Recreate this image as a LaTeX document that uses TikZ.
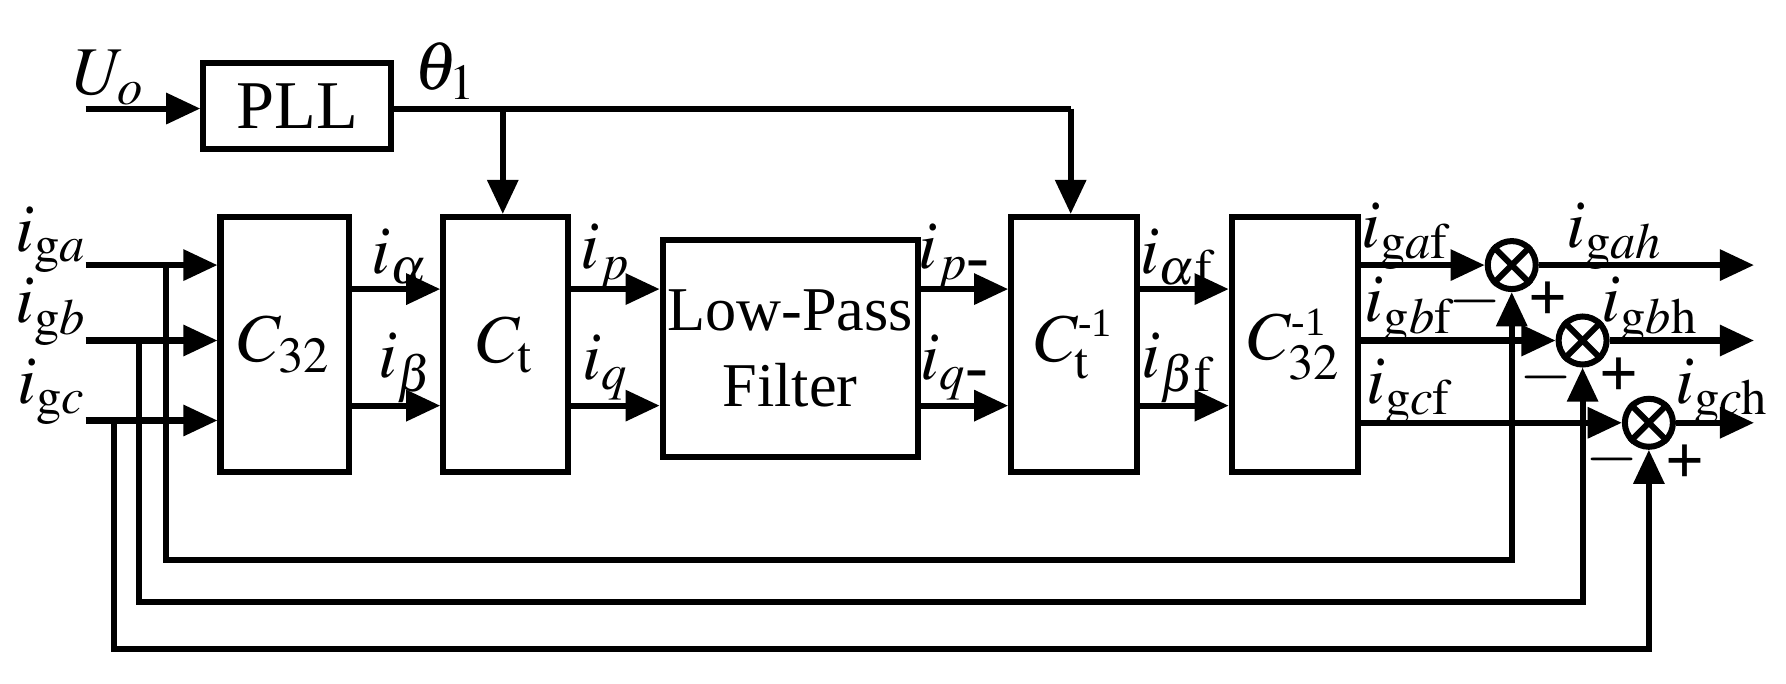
\documentclass[tikz,border=0pt]{standalone}
\usepackage{mathptmx}
\usepackage{fontspec}
\setmainfont{Liberation Serif}
\usetikzlibrary{arrows.meta,calc}
\begin{document}
\begin{tikzpicture}[x=0.01cm,y=-0.01cm,line width=1.5pt,
  arr/.style={-{Triangle[length=8.5pt,width=7.5pt]}},
  blk/.style={draw,inner sep=0pt,font=\fontsize{17}{19}\selectfont,align=center},
  sum/.style={draw,circle,minimum size=0.42cm,inner sep=0pt},
  lab/.style={font=\fontsize{17}{19}\selectfont,inner sep=0pt},
  sg/.style={font=\bfseries\fontsize{17}{19}\selectfont,inner sep=0pt}]
\useasboundingbox (0,0) rectangle (1563,598);
% blocks
\node[blk,minimum width=1.64cm,minimum height=0.75cm] (pll) at (260,92.5) {PLL};
\node[blk,minimum width=1.12cm,minimum height=2.23cm] (c32) at (249,301.5) {$C_{32}$};
\node[blk,minimum width=1.09cm,minimum height=2.23cm] (ct) at (442.5,301.5) {$C_{\mathrm{t}}$};
\node[blk,minimum width=2.23cm,minimum height=1.9cm,font=\fontsize{15.5}{19}\selectfont] (lpf) at (691.5,305) {Low-Pass\\Filter};
\node[blk,minimum width=1.10cm,minimum height=2.23cm] (cti) at (940,301.5) {$C_{\mathrm{t}}^{\mbox{\fontsize{10}{10}\selectfont -1}}$};
\node[blk,minimum width=1.10cm,minimum height=2.23cm] (c32i) at (1133,301.5) {$C_{32}^{\mbox{\fontsize{10}{10}\selectfont -1}}$};
% summers
\node[sum] (sa) at (1323,232) {};
\node[sum] (sb) at (1385,298) {};
\node[sum] (sc) at (1443,370) {};
\foreach \s in {sa,sb,sc}{
  \draw (\s.north west)--(\s.south east) (\s.north east)--(\s.south west);}
% coordinates
\coordinate (uo) at (75,95);
\coordinate (ia) at (75,232);
\coordinate (ib) at (75,298);
\coordinate (ic) at (75,368);
\coordinate (ta) at (145,232);
\coordinate (tb) at (122,298);
\coordinate (tc) at (100,368);
\coordinate (oa) at (1535,232);
\coordinate (ob) at (1535,298);
\coordinate (oc) at (1535,370);
\coordinate (br1) at (440,95);
\coordinate (br2) at (937,95);
% PLL
\draw[arr] (uo) -- (pll.west |- uo);
\draw (pll.east |- uo) -- (br2);
\draw[arr] (br1) -- (ct.north -| br1);
\draw[arr] (br2) -- (cti.north -| br2);
% inputs
\draw[arr] (ia) -- (c32.west |- ia);
\draw[arr] (ib) -- (c32.west |- ib);
\draw[arr] (ic) -- (c32.west |- ic);
% chain
\foreach \y in {253,355}{
  \draw[arr] (c32.east |- 0,\y) -- (ct.west |- 0,\y);
  \draw[arr] (ct.east |- 0,\y) -- (lpf.west |- 0,\y);
  \draw[arr] (lpf.east |- 0,\y) -- (cti.west |- 0,\y);
  \draw[arr] (cti.east |- 0,\y) -- (c32i.west |- 0,\y);}
% outputs
\draw[arr] (c32i.east |- sa) -- (sa.west);
\draw[arr] (c32i.east |- sb) -- (sb.west);
\draw[arr] (c32i.east |- sc) -- (sc.west);
\draw[arr] (sa.east) -- (oa);
\draw[arr] (sb.east) -- (ob);
\draw[arr] (sc.east) -- (oc);
% feedback
\draw[arr] (ta) -- (145,490) -| (sa.south);
\draw[arr] (tb) -- (122,527) -| (sb.south);
\draw[arr] (tc) -- (100,568) -| (sc.south);
% labels
\node[lab] (luo) at (95,68) {$U_{o}$};
\node[lab] (lth) at (390,62) {$\theta_{1}$};
\node[lab] (lga) at (45,210) {$i_{\mathrm{g}a}$};
\node[lab] (lgb) at (45,273) {$i_{\mathrm{g}b}$};
\node[lab] (lgc) at (45,343) {$i_{\mathrm{g}c}$};
\node[lab] (lal) at (350,225) {$i_{\alpha}$};
\node[lab] (lbe) at (355,322) {$i_{\beta}$};
\node[lab] (lp) at (530,225) {$i_{p}$};
\node[lab] (lq) at (530,322) {$i_{q}$};
\node[lab] (lpm) at (836,225) {$i_{p\mbox{-}}$};
\node[lab] (lqm) at (836,322) {$i_{q\mbox{-}}$};
\node[lab] (laf) at (1030,225) {$i_{\alpha\mathrm{f}}$};
\node[lab] (lbf) at (1030,322) {$i_{\beta\mathrm{f}}$};
\node[lab] (lgaf) at (1230,207) {$i_{\mathrm{g}a\mathrm{f}}$};
\node[lab] (lgbf) at (1233,272) {$i_{\mathrm{g}b\mathrm{f}}$};
\node[lab] (lgcf) at (1233,343) {$i_{\mathrm{g}c\mathrm{f}}$};
\node[lab] (lgah) at (1413,207) {$i_{\mathrm{g}ah}$};
\node[lab] (lgbh) at (1444,272) {$i_{\mathrm{g}b\mathrm{h}}$};
\node[lab] (lgch) at (1507,343) {$i_{\mathrm{g}c\mathrm{h}}$};
% signs
\node[sg] (ma) at (1291,264) {$-$};
\node[sg] (pa) at (1355,264) {+};
\node[sg] (mb) at (1353,330) {$-$};
\node[sg] (pb) at (1417,330) {+};
\node[sg] (mc) at (1411,402) {$-$};
\node[sg] (pc) at (1475,406) {+};
\end{tikzpicture}
\end{document}
